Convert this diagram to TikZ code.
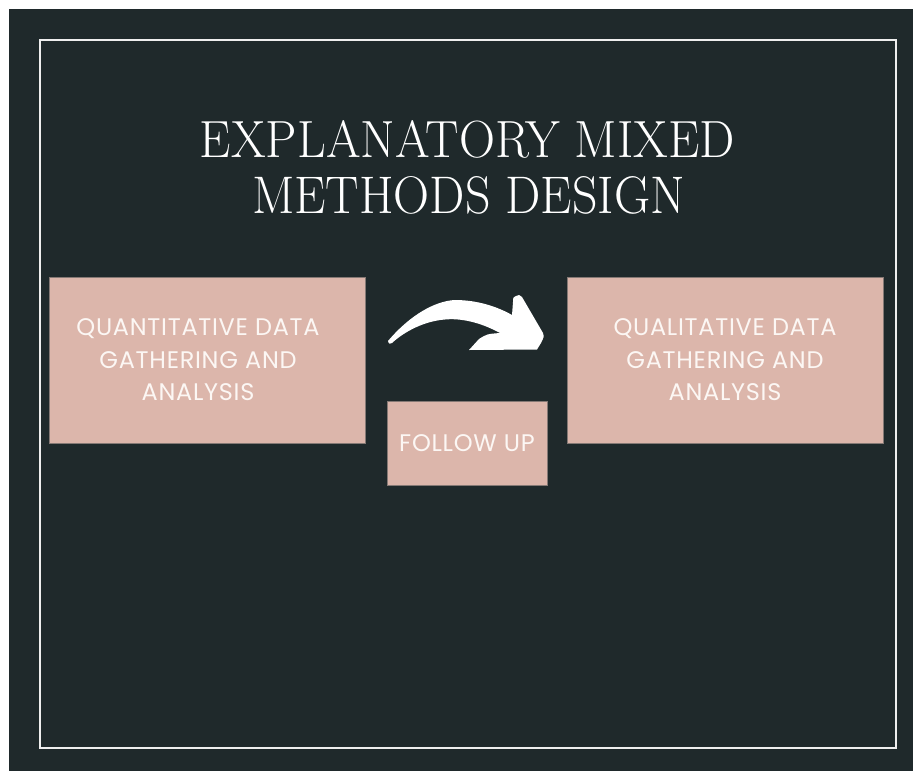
\documentclass[tikz,border=0pt]{standalone}
\usepackage{fontspec}
\usepackage{graphicx}
\newfontfamily\boxfont[LetterSpace=3]{Poppins}
\definecolor{slate}{HTML}{1F292B}
\definecolor{blush}{HTML}{DCB6AB}
\definecolor{blushedge}{HTML}{857975}
\definecolor{framewhite}{HTML}{EEEEEE}
\definecolor{ink}{HTML}{FCF7F4}
\tikzset{
  stagebox/.style={rectangle, fill=blush, draw=blushedge, line width=0.7pt, inner sep=0pt},
  stagetext/.style={text=ink, align=center, inner sep=0pt,
    font=\boxfont\fontsize{24}{32.5}\selectfont},
  titleline/.style={text=white, inner sep=0pt, anchor=base,
    font=\fontsize{50}{60}\selectfont},
}
\begin{document}
\begin{tikzpicture}[x=1pt, y=-1pt]
  % canvas and dark panel
  \useasboundingbox (0,0) rectangle (913,771);
  \fill[white] (0,0) rectangle (913,771);
  \fill[slate] (9,9) rectangle (913,771);
  % thin inner frame
  \draw[framewhite, line width=2pt] (39.5,39.5) rectangle (895.5,747.5);

  % heading
  \node[titleline] (title1) at (467.5,157) {\resizebox{535pt}{37pt}{EXPLANATORY MIXED}};
  \node[titleline] (title2) at (468.5,213) {\resizebox{433pt}{37pt}{METHODS DESIGN}};

  % stages
  \node[stagebox, minimum width=316pt, minimum height=166pt] (quant) at (207,360) {};
  \node[stagetext] (quanttext) at ([xshift=-9pt]quant.center) {QUANTITATIVE DATA\\GATHERING AND\\ANALYSIS};

  \node[stagebox, minimum width=316pt, minimum height=166pt] (qual) at (725,360) {};
  \node[stagetext] (qualtext) at (qual.center) {QUALITATIVE DATA\\GATHERING AND\\ANALYSIS};

  \node[stagebox, minimum width=160pt, minimum height=84pt] (follow) at (467,443) {};
  \node[stagetext] (followtext) at (follow.center) {FOLLOW UP};

  % curved arrow between the stages
  \fill[white]
    (388,341)
    .. controls (410,315) and (435,301) .. (455,300)
    .. controls (478,300) and (498,307) .. (512,315)
    -- (513,302)
    .. controls (513,297) .. (519,295)
    -- (522,297)
    -- (543,333)
    .. controls (544,337) .. (541,343)
    -- (537,349.5)
    -- (469,350)
    -- (479,339)
    .. controls (487,334) .. (500,333)
    .. controls (480,322) and (460,318) .. (445,319.5)
    .. controls (425,321) and (405,331) .. (392,343)
    .. controls (389,344) .. (388,341)
    -- cycle;
\end{tikzpicture}
\end{document}
